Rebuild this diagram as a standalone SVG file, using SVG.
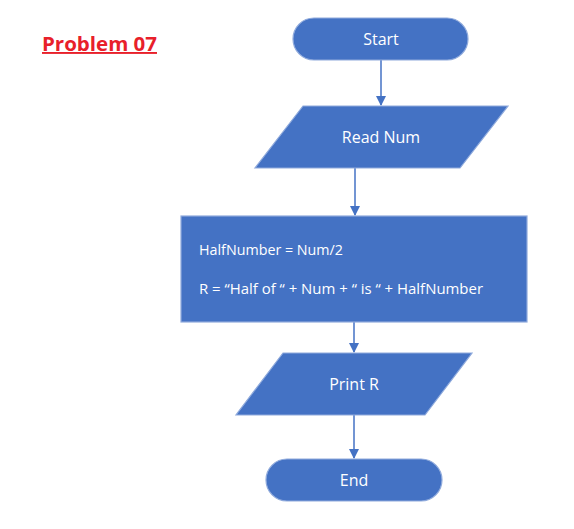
<svg xmlns="http://www.w3.org/2000/svg" width="574" height="529" viewBox="0 0 574 529">
<style>
.shape{fill:#4472C4;stroke:#8FAADC;stroke-width:1.2}
.lbl{font-family:"Open Sans","Liberation Sans",sans-serif;font-size:16px;fill:#FFFFFF;text-anchor:middle}
.code{font-family:"Open Sans","Liberation Sans",sans-serif;font-size:14.5px;fill:#FFFFFF}
.conn{stroke:#4472C4;stroke-width:1.5;fill:none}
</style>
<defs>
<marker id="arr" markerWidth="10" markerHeight="10" refX="9" refY="5" orient="auto" markerUnits="userSpaceOnUse">
<path d="M0,0 L10,5 L0,10 z" fill="#4472C4"/>
</marker>
</defs>
<rect width="574" height="529" fill="#FFFFFF"/>
<g id="title">
<text x="42" y="51" font-family="'Open Sans','Liberation Sans',sans-serif" font-weight="bold" font-size="19" fill="#E8202A" text-decoration="underline" textLength="115" lengthAdjust="spacingAndGlyphs">Problem 07</text>
</g>
<g id="connectors">
<line class="conn" x1="381" y1="60" x2="381" y2="105" marker-end="url(#arr)"/>
<line class="conn" x1="355" y1="168" x2="355" y2="215" marker-end="url(#arr)"/>
<line class="conn" x1="354" y1="322" x2="354" y2="352" marker-end="url(#arr)"/>
<line class="conn" x1="354" y1="415" x2="354" y2="458" marker-end="url(#arr)"/>
</g>
<g id="start">
<rect class="shape" x="293" y="18" width="175" height="42" rx="21" ry="21"/>
<text class="lbl" x="381" y="45">Start</text>
</g>
<g id="read">
<polygon class="shape" points="303,106 508,106 460,168 255,168"/>
<text class="lbl" x="381" y="143">Read Num</text>
</g>
<g id="process">
<rect class="shape" x="181" y="216" width="346" height="106"/>
<text class="code" x="199" y="255" textLength="144" lengthAdjust="spacingAndGlyphs">HalfNumber = Num/2</text>
<text class="code" x="199" y="294" textLength="284" lengthAdjust="spacingAndGlyphs">R = “Half of “ + Num + “ is “ +  HalfNumber</text>
</g>
<g id="print">
<polygon class="shape" points="283,353 472,353 425,415 236,415"/>
<text class="lbl" x="354" y="390">Print R</text>
</g>
<g id="end">
<rect class="shape" x="266" y="459" width="176" height="42" rx="21" ry="21"/>
<text class="lbl" x="354" y="486">End</text>
</g>
</svg>
